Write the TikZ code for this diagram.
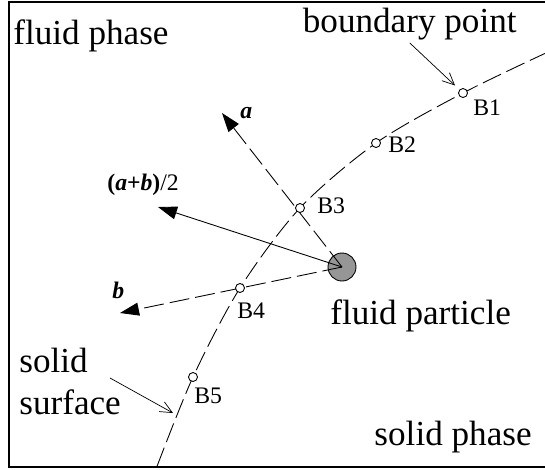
\documentclass[tikz,border=0pt]{standalone}
\usepackage{fontspec}
\setmainfont{Liberation Serif}
\usetikzlibrary{positioning,calc}
\usetikzlibrary{arrows.meta}
\definecolor{ParticleGray}{RGB}{150,150,150}
\tikzset{
  bp/.style={circle,draw=black,fill=white,inner sep=0pt,minimum size=1.8mm,line width=0.5pt},
  particle/.style={circle,draw=black,fill=ParticleGray,inner sep=0pt,minimum size=5.6mm,line width=0.5pt},
  surf/.style={draw=black,line width=0.5pt,dash pattern=on 4mm off 1.2mm},
  vec/.style={draw=black,line width=0.5pt,-{Triangle[length=3.8mm,width=2.6mm]}},
  vecdash/.style={vec,dash pattern=on 4mm off 1.2mm},
  callout/.style={draw=black,line width=0.4pt,-{Straight Barb[length=2.4mm,width=2.2mm]}},
}
\tikzset{big/.style={font=\fontsize{20}{24}\selectfont,inner sep=0pt}, lab/.style={font=\fontsize{13.5}{16}\selectfont,inner sep=0pt}}

\begin{document}
\begin{tikzpicture}[x=0.2mm,y=-0.2mm]
\useasboundingbox (0,0) rectangle (545,469);
\draw[line width=0.8pt] (548,2) -- (9,2) -- (9,467) -- (548,467);
% solid surface
\coordinate (s0) at (548,52);
\coordinate (gB1) at (463,93);
\coordinate (gB2) at (376,143);
\coordinate (gB3) at (300,208);
\coordinate (gB4) at (240,288);
\coordinate (gB5) at (193,377);
\coordinate (s6) at (156,469);
\draw[surf] plot[smooth] coordinates {(s0) (gB1) (gB2) (gB3) (gB4) (gB5) (s6)};
% particle and vectors
\node[particle] (p) at (342,267) {};
\coordinate (ta) at (222,113);
\coordinate (tab) at (158,207);
\coordinate (tb) at (120,313);
\draw[vecdash] (p.center) -- (ta);
\draw[vec] (p.center) -- (tab);
\draw[vecdash] (p.center) -- (tb);
\foreach \i in {1,...,5}
  \node[bp] (B\i) at (gB\i) {};
% labels
\node[lab,anchor=base west] (la) at (240,118) {\textbf{\textit{a}}};
\node[lab,anchor=base west] (lab) at (107,190) {\textbf{(\textit{a}+\textit{b})}/2};
\node[lab,anchor=base west] (lb) at (112,298) {\textbf{\textit{b}}};
\node[lab,anchor=base west] at (473,115) {B1};
\node[lab,anchor=base west] at (388,152) {B2};
\node[lab,anchor=base west] at (317,213) {B3};
\node[lab,anchor=base west] at (237,318) {B4};
\node[lab,anchor=base west] at (194,403) {B5};
\node[big,anchor=base west] (tfp) at (13,44) {fluid phase};
\node[big,anchor=base east] (tbp) at (517,32) {boundary point};
\node[big,anchor=base west] (tpart) at (330,324) {fluid particle};
\node[big,anchor=base west] (tsolid) at (19,372) {solid};
\node[big,anchor=base west] (tsurf) at (19,414) {surface};
\node[big,anchor=base east] (tsp) at (532,445) {solid phase};
% callouts
\coordinate (cs0) at (110,378);
\coordinate (cs1) at (173,413);
\draw[callout,shorten >=1.2mm] ([yshift=-0.6mm]tbp.south) -- (B1);
\draw[callout] (cs0) -- (cs1);
\end{tikzpicture}
\end{document}
